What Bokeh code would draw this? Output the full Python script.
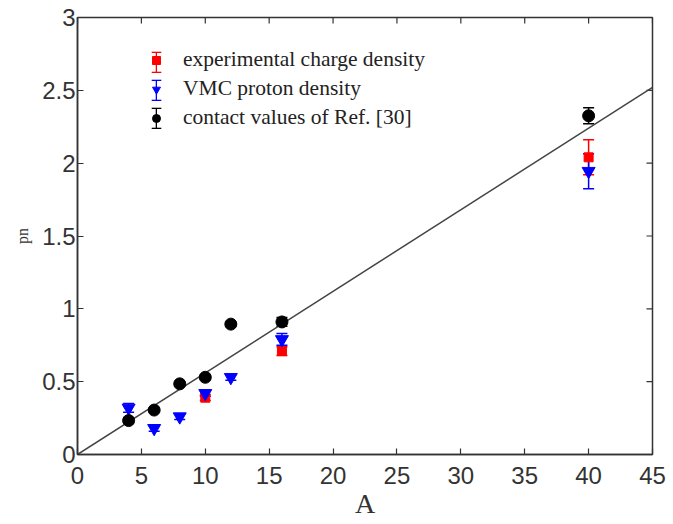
import numpy as np
from bokeh.plotting import figure
from bokeh.models import (Whisker, TeeHead, ColumnDataSource, Legend, LegendItem,
                          FixedTicker, Range1d)
from bokeh.embed import file_html
from bokeh.resources import INLINE

# ---- data ----
A_exp = [10, 16, 40]
exp_vals = [0.39, 0.71, 2.04]
exp_err = [0.02, 0.03, 0.12]

A_vmc = [4, 6, 8, 10, 12, 16, 40]
vmc_vals = [0.32, 0.18, 0.26, 0.42, 0.53, 0.79, 1.945]
vmc_err = [0.03, 0.02, 0.02, 0.02, 0.02, 0.04, 0.12]

A_con = [4, 6, 8, 10, 12, 16, 40]
con_vals = [0.233, 0.305, 0.485, 0.53, 0.895, 0.91, 2.325]
con_err = [0.02, 0.015, 0.015, 0.015, 0.015, 0.03, 0.055]

fit_A = [0, 45]
fit_slope = 0.056

x_ticks = [0, 5, 10, 15, 20, 25, 30, 35, 40, 45]
y_ticks = [0, 0.5, 1, 1.5, 2, 2.5, 3]
x_min, x_max = 0, 45
y_min, y_max = 0, 3

labels = ["experimental charge density", "VMC proton density", "contact values of Ref. [30]"]
colors = ["#ff0000", "#0000ff", "#000000"]

FONT_SANS = "Liberation Sans"
FONT_SERIF = "Liberation Serif"
AXIS_COLOR = "#333333"

p = figure(width=673, height=524, output_backend="svg", toolbar_location=None,
           x_range=Range1d(x_min, x_max), y_range=Range1d(y_min, y_max),
           min_border_left=77, min_border_right=21, min_border_top=17, min_border_bottom=70)
p.xgrid.visible = False
p.ygrid.visible = False
p.outline_line_color = AXIS_COLOR
p.outline_line_width = 1.5
p.background_fill_color = "white"
p.border_fill_color = "white"

for ax in (p.xaxis[0], p.yaxis[0]):
    ax.axis_line_color = AXIS_COLOR
    ax.axis_line_width = 1.5
    ax.major_tick_in = 6
    ax.major_tick_out = 0
    ax.minor_tick_in = 0
    ax.minor_tick_out = 0
    ax.major_tick_line_color = AXIS_COLOR
    ax.major_tick_line_width = 1.2
    ax.major_label_text_font = FONT_SANS
    ax.major_label_text_font_size = "24px"
    ax.major_label_text_color = AXIS_COLOR

p.xaxis.ticker = FixedTicker(ticks=x_ticks)
p.yaxis.ticker = FixedTicker(ticks=y_ticks)
p.xaxis.major_label_standoff = 12
p.yaxis.major_label_standoff = 2
p.xaxis.axis_label = "A"
p.xaxis.axis_label_text_font = FONT_SERIF
p.xaxis.axis_label_text_font_style = "normal"
p.xaxis.axis_label_text_font_size = "28px"
p.xaxis.axis_label_text_color = AXIS_COLOR
p.xaxis.axis_label_standoff = 1
p.yaxis.axis_label = "pn"
p.yaxis.axis_label_text_font = FONT_SERIF
p.yaxis.axis_label_text_font_style = "normal"
p.yaxis.axis_label_text_font_size = "16px"
p.yaxis.axis_label_text_color = AXIS_COLOR
p.yaxis.axis_label_standoff = 8

# inward ticks on the top and right frame edges
p.ray(x=x_ticks, y=[y_max] * len(x_ticks), length=6, length_units="screen",
      angle=-np.pi / 2, line_color=AXIS_COLOR, line_width=1.2)
p.ray(x=[x_max] * len(y_ticks), y=y_ticks, length=6, length_units="screen",
      angle=np.pi, line_color=AXIS_COLOR, line_width=1.2)

# fit line
p.line(x=fit_A, y=[fit_slope * a for a in fit_A], line_color="#444444", line_width=1.5)

def series(xs, ys, errs, color, marker, size):
    src = ColumnDataSource(dict(x=xs, y=ys,
                                lo=[y - e for y, e in zip(ys, errs)],
                                hi=[y + e for y, e in zip(ys, errs)]))
    w = Whisker(source=src, base="x", lower="lo", upper="hi",
                line_color=color, line_width=1.5,
                upper_head=TeeHead(size=11, line_color=color, line_width=1.5),
                lower_head=TeeHead(size=11, line_color=color, line_width=1.5))
    p.add_layout(w)
    r = p.scatter(x="x", y="y", source=src, marker=marker, size=size,
                  fill_color=color, line_color=color)
    # legend-only swatch used to draw the error-bar symbol (nothing visible in the plot)
    sw = p.rect(x=[np.nan], y=[np.nan], width=1, height=1, fill_color=color, line_alpha=0)
    return r, sw

r_exp, s_exp = series(A_exp, exp_vals, exp_err, colors[0], "square", 9)
r_vmc, s_vmc = series(A_vmc, vmc_vals, vmc_err, colors[1], "inverted_triangle", 13)
r_con, s_con = series(A_con, con_vals, con_err, colors[2], "circle", 12)
swatches = [s_exp, s_vmc, s_con]

def symbol_legend(gw, gh, spacing, loc):
    lg = Legend(items=[LegendItem(label=" ", renderers=[s]) for s in swatches], location=loc)
    lg.glyph_width = gw
    lg.glyph_height = gh
    lg.label_height = gh
    lg.label_width = 1
    lg.spacing = spacing
    lg.padding = 0
    lg.margin = 0
    lg.label_standoff = 0
    lg.label_text_font_size = "1px"
    lg.border_line_alpha = 0
    lg.background_fill_alpha = 0
    p.add_layout(lg, "center")

# vertical stroke of the legend error bars
symbol_legend(2, 26, 2, (78, 323))
# upper and lower caps
symbol_legend(12, 2, 26, (73, 345))
symbol_legend(12, 2, 26, (73, 325))

legend = Legend(items=[
    LegendItem(label=labels[0], renderers=[r_exp]),
    LegendItem(label=labels[1], renderers=[r_vmc]),
    LegendItem(label=labels[2], renderers=[r_con]),
], location=(64, 319))
legend.label_text_font = FONT_SERIF
legend.label_text_font_size = "21.5px"
legend.label_text_color = "#222222"
legend.glyph_width = 20
legend.glyph_height = 24
legend.label_height = 24
legend.spacing = 4
legend.padding = 5
legend.margin = 0
legend.label_standoff = 17
legend.border_line_alpha = 0
legend.background_fill_alpha = 0
p.add_layout(legend, "center")

open("out.html", "w").write(file_html(p, INLINE))
